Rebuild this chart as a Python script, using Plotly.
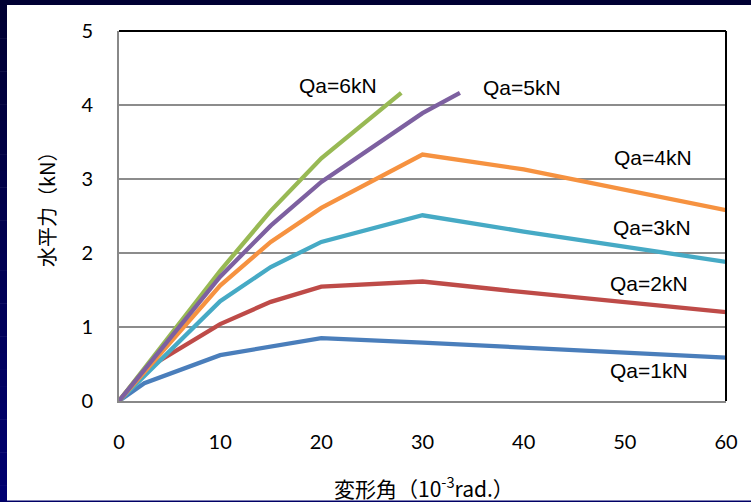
import plotly.graph_objects as go

# Horizontal load vs. drift angle for each allowable load Qa
x_qa1 = [0, 2.5, 10, 15, 20, 30, 40, 60]
y_qa1 = [0, 0.24, 0.62, 0.74, 0.85, 0.79, 0.72, 0.585]

x_qa2 = [0, 2.5, 10, 15, 20, 30, 40, 60]
y_qa2 = [0, 0.42, 1.04, 1.34, 1.545, 1.615, 1.47, 1.20]

x_qa3 = [0, 10, 15, 20, 30, 40, 60]
y_qa3 = [0, 1.35, 1.81, 2.15, 2.51, 2.29, 1.88]

x_qa4 = [0, 10, 15, 20, 30, 40, 60]
y_qa4 = [0, 1.56, 2.15, 2.61, 3.33, 3.13, 2.58]

x_qa5 = [0, 10, 15, 20, 30, 33.7]
y_qa5 = [0, 1.68, 2.37, 2.96, 3.89, 4.165]

x_qa6 = [0, 10, 15, 20, 27.9]
y_qa6 = [0, 1.76, 2.57, 3.28, 4.165]

series_labels = ["Qa=1kN", "Qa=2kN", "Qa=3kN", "Qa=4kN", "Qa=5kN", "Qa=6kN"]
label_x = [52.4, 52.4, 52.65, 52.8, 39.8, 21.6]
label_y = [0.41, 1.59, 2.34, 3.29, 4.23, 4.27]

x_ticks = [0, 10, 20, 30, 40, 50, 60]
y_ticks = [0, 1, 2, 3, 4, 5]

colors = ["#4A7EBB", "#BE4B48", "#46AAC5", "#F69240", "#7D60A0", "#98B954"]

W, H = 751, 502
L, R, T, B = 119, 25, 31, 101
PW, PH = W - L - R, H - T - B


def px2x(px):
    return (px - L) / PW


def py2y(py):
    return (H - B - py) / PH


fig = go.Figure()

curves = [
    (x_qa1, y_qa1, colors[0]),
    (x_qa2, y_qa2, colors[1]),
    (x_qa3, y_qa3, colors[2]),
    (x_qa4, y_qa4, colors[3]),
    (x_qa6, y_qa6, colors[5]),
    (x_qa5, y_qa5, colors[4]),
]
for xs, ys, c in curves:
    fig.add_trace(go.Scatter(x=xs, y=ys, mode="lines",
                             line=dict(color=c, width=4.3),
                             showlegend=False, hoverinfo="skip"))

shapes = []
# navy slide frame: dark top strip and a left strip shading toward blue
shapes.append(dict(type="rect", xref="paper", yref="paper",
                   x0=px2x(0), x1=px2x(W), y0=py2y(5), y1=py2y(0),
                   fillcolor="#000033", line=dict(width=0), layer="below"))
n = 30
for i in range(n):
    t = i / (n - 1)
    b_ = int(0x33 + (0x70 - 0x33) * t)
    y0 = 5 + (H - 5) * i / n
    y1 = 5 + (H - 5) * (i + 1) / n
    shapes.append(dict(type="rect", xref="paper", yref="paper",
                       x0=px2x(0), x1=px2x(7), y0=py2y(y1 + 0.5), y1=py2y(y0),
                       fillcolor=f"rgb(0,0,{b_})", line=dict(width=0),
                       layer="below"))
shapes.append(dict(type="rect", xref="paper", yref="paper",
                   x0=px2x(0), x1=px2x(W), y0=py2y(H), y1=py2y(H - 1.5),
                   fillcolor="#000066", line=dict(width=0), layer="below"))
# plot-area border on the top and right
shapes.append(dict(type="line", xref="paper", yref="paper",
                   x0=0, x1=1, y0=1, y1=1, line=dict(color="#000000", width=2)))
shapes.append(dict(type="line", xref="paper", yref="paper",
                   x0=1, x1=1, y0=0, y1=1, line=dict(color="#000000", width=2)))

annotations = []
for txt, lx, ly in zip(series_labels, label_x, label_y):
    annotations.append(dict(text=txt, x=lx, y=ly, xref="x", yref="y",
                            showarrow=False,
                            font=dict(family="Liberation Sans, Arial", size=21,
                                      color="#000000")))
annotations.append(dict(text="変形角（10<sup>-3</sup>rad.）", xref="paper", yref="paper",
                        x=px2x(424), y=py2y(487), xanchor="center", yanchor="middle",
                        showarrow=False,
                        font=dict(family="Noto Sans CJK JP", size=21, color="#000000")))
annotations.append(dict(text="水平力（kN）", xref="paper", yref="paper",
                        x=px2x(46), y=py2y(204), xanchor="center", yanchor="middle",
                        textangle=-90, showarrow=False,
                        font=dict(family="Noto Sans CJK JP", size=20, color="#000000")))

fig.update_layout(
    width=W, height=H,
    margin=dict(l=L, r=R, t=T, b=B),
    paper_bgcolor="#FFFFFF",
    plot_bgcolor="rgba(0,0,0,0)",
    shapes=shapes,
    annotations=annotations,
    xaxis=dict(range=[0, 60], tickvals=x_ticks, showgrid=False, zeroline=False,
               showline=True, linecolor="#888888", linewidth=2,
               ticks="", ticklabelstandoff=22,
               tickfont=dict(family="Lato", size=20, color="#000000")),
    yaxis=dict(range=[0, 5], tickvals=y_ticks, showgrid=True, gridcolor="#8c8c8c",
               gridwidth=1.5, zeroline=False,
               showline=True, linecolor="#888888", linewidth=2,
               ticks="", ticklabelstandoff=20,
               tickfont=dict(family="Lato", size=20, color="#000000")),
)

fig.write_html("out.html")
